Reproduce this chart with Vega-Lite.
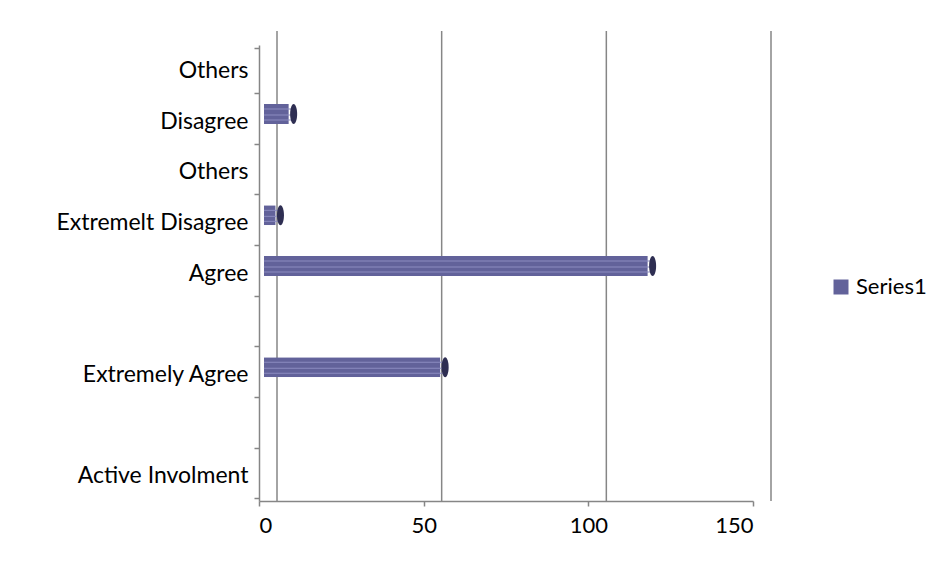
{
  "$schema": "https://vega.github.io/schema/vega-lite/v6.json",
  "autosize": {"type": "none"},
  "padding": {"left": 259, "top": 45, "right": 185, "bottom": 63},
  "width": 494,
  "height": 456,
  "background": "white",
  "config": {
    "view": {"stroke": null},
    "font": "Lato",
    "axis": {"labelFont": "Lato", "labelFontSize": 22, "labelColor": "#000000", "domainColor": "#868686", "domainWidth": 1.5, "tickColor": "#868686", "tickWidth": 1.5}
  },
  "datasets": {
    "answers": [
      {"category": "Others", "value": 0, "series": "Series1"},
      {"category": "Disagree", "value": 9, "series": "Series1"},
      {"category": "Others ", "value": 0, "series": "Series1"},
      {"category": "Extremelt Disagree", "value": 5, "series": "Series1"},
      {"category": "Agree", "value": 118, "series": "Series1"},
      {"category": " ", "value": 0, "series": "Series1"},
      {"category": "Extremely Agree", "value": 55, "series": "Series1"},
      {"category": "  ", "value": 0, "series": "Series1"},
      {"category": "Active Involment", "value": 0, "series": "Series1"}
    ],
    "grid": [{"v": 0}, {"v": 50}, {"v": 100}, {"v": 150}]
  },
  "layer": [
    {
      "data": {"name": "grid"},
      "mark": {"type": "rule", "color": "#868686", "strokeWidth": 1.5, "xOffset": 18, "yOffset": -14},
      "encoding": {
        "x": {"field": "v", "type": "quantitative"}
      }
    },
    {
      "data": {"name": "answers"},
      "mark": {"type": "bar", "size": 20, "xOffset": 5, "yOffset": -7, "cornerRadiusTopLeft": 5, "cornerRadiusBottomLeft": 5},
      "encoding": {
        "y": {"field": "category", "type": "nominal", "sort": null, "title": null,
              "axis": {"tickBand": "extent", "tickSize": 5, "labelPadding": 6, "labelLimit": 300, "labelFontSize": 23, "domain": true, "grid": false}},
        "x": {"field": "value", "type": "quantitative", "title": null,
              "scale": {"domain": [0, 150], "nice": false},
              "axis": {"values": [0, 50, 100, 150], "grid": false, "tickSize": 5, "labelPadding": 9, "labelAngle": 0}},
        "color": {"field": "series", "type": "nominal", "title": null,
                  "scale": {"range": ["#62629a"]},
                  "legend": {"orient": "none", "legendX": 571, "legendY": 231, "symbolType": "square", "symbolSize": 225, "labelFont": "Lato", "labelFontSize": 22, "labelColor": "#000000", "symbolStrokeWidth": 0, "labelOffset": 4}}
      }
    },
    {
      "data": {"name": "answers"},
      "transform": [{"filter": "datum.value > 0"}],
      "mark": {"type": "bar", "size": 1, "xOffset": 5, "yOffset": -12, "color": "#8c8cc0"},
      "encoding": {
        "y": {"field": "category", "type": "nominal", "sort": null},
        "x": {"field": "value", "type": "quantitative"},
        "x2": {"datum": 1.5}
      }
    },
    {
      "data": {"name": "answers"},
      "transform": [{"filter": "datum.value > 0"}],
      "mark": {"type": "bar", "size": 1, "xOffset": 5, "yOffset": -6, "color": "#8c8cc0"},
      "encoding": {
        "y": {"field": "category", "type": "nominal", "sort": null},
        "x": {"field": "value", "type": "quantitative"},
        "x2": {"datum": 1.5}
      }
    },
    {
      "data": {"name": "answers"},
      "transform": [{"filter": "datum.value > 0"}],
      "mark": {"type": "bar", "size": 1, "xOffset": 5, "yOffset": -1, "color": "#8c8cc0"},
      "encoding": {
        "y": {"field": "category", "type": "nominal", "sort": null},
        "x": {"field": "value", "type": "quantitative"},
        "x2": {"datum": 1.5}
      }
    },
    {
      "data": {"name": "answers"},
      "transform": [{"filter": "datum.value > 0"}],
      "mark": {"type": "point", "filled": true, "opacity": 1, "color": "#2e2e52", "size": 400, "xOffset": 5, "yOffset": -7,
               "shape": "M0,-1 A0.35,1 0 1,1 0,1 A0.35,1 0 1,1 0,-1 Z"},
      "encoding": {
        "y": {"field": "category", "type": "nominal", "sort": null},
        "x": {"field": "value", "type": "quantitative"}
      }
    }
  ]
}
